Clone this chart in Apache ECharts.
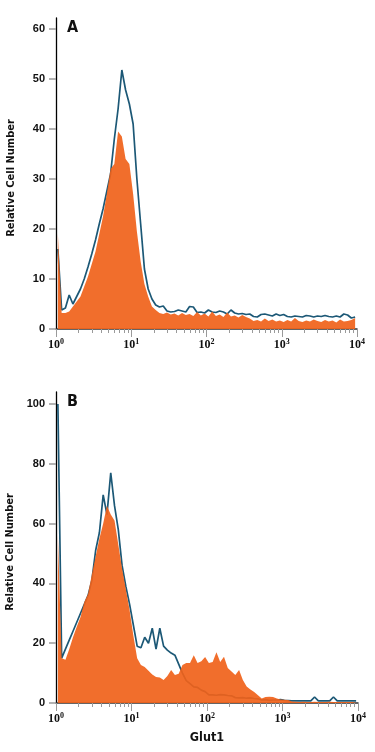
<!DOCTYPE html>
<html><head><meta charset="utf-8">
<script src="https://cdn.jsdelivr.net/npm/echarts@6/dist/echarts.min.js"></script>
<style>html,body{margin:0;padding:0;background:#fff}#c{width:375px;height:752px}</style>
</head><body><div id="c"></div>
<script>
// Channel bins in log10(fluorescence) units: bin i is centred at (i+0.5)*BIN_WIDTH
const BIN_WIDTH = 0.05;
const xExponents = [0, 1, 2, 3, 4];          // tick labels 10^0 ... 10^4
const xMinorMultipliers = [2, 3, 4, 5, 6, 7, 8, 9];
const yTicksA = [0, 10, 20, 30, 40, 50, 60];
const yTicksB = [0, 20, 40, 60, 80, 100];
const panelLabels = ['A', 'B'];
const xAxisTitle = 'Glut1';
const yAxisTitle = 'Relative Cell Number';

// Panel A
const panelA_orange = [19, 3.2, 3.2, 3.5, 4.5, 5.5, 6.5, 8.5, 10.5, 13,
  15.5, 19, 22.5, 27, 32, 33, 39.5, 38.5, 34, 33,
  27, 19.5, 13.5, 9, 6.5, 4.5, 3.8, 3.2, 3.0, 3.3,
  2.9, 3.1, 2.7, 3.2, 2.8, 3.0, 2.6, 3.4, 2.7, 3.1,
  2.5, 3.5, 2.6, 2.9, 2.4, 3.3, 2.5, 2.7, 2.3, 2.8,
  2.4, 2.1, 1.6, 1.8, 1.5, 2.1, 1.6, 1.9, 1.5, 1.7,
  1.4, 1.8, 1.5, 2.2, 1.6, 1.4, 1.7, 1.5, 1.9, 1.6,
  1.4, 1.8, 1.5, 1.7, 1.3, 1.9, 1.5, 1.6, 1.8, 2.2];
const panelA_blue = [16, 3.8, 4.2, 6.8, 5, 6.5, 8, 10, 12.4, 15,
  17.8, 21, 24, 27.5, 31, 38, 44, 51.8, 47.8, 45,
  41, 30, 21, 12, 8, 6, 4.8, 4.4, 4.6, 3.6,
  3.4, 3.5, 3.8, 3.6, 3.4, 4.5, 4.4, 3.3, 3.4, 3.2,
  3.8, 3.4, 3.3, 3.6, 3.4, 3.0, 3.8, 3.2, 3.0, 3.1,
  2.9, 3.0, 2.5, 2.4, 2.9, 3.0, 2.8, 2.6, 3.0, 2.7,
  2.9, 2.5, 2.4, 2.6, 2.5, 2.4, 2.7, 2.6, 2.4, 2.6,
  2.5, 2.7, 2.5, 2.4, 2.6, 2.4, 3.0, 2.8, 2.2, 2.4];

// Panel B
const panelB_orange = [56, 15, 14.5, 18, 22, 25.5, 28.8, 33.8, 36.5, 43,
  49, 55, 60, 66, 63, 61, 53, 45, 38, 31,
  22.5, 15, 12.7, 12, 10.8, 9.5, 8.7, 8.5, 7.7, 9,
  11, 9.4, 9.8, 12.7, 13.4, 13.4, 16, 13.4, 14, 15.4,
  13.4, 13.7, 17, 13.7, 15.5, 11.7, 10.5, 9.4, 11, 7.7,
  5.5, 4.5, 3.7, 2.6, 1.5, 2, 2.1, 2, 1.5, 1.2,
  1.1, 1.0, 0.5, 0.4, 0.3, 0.4, 0.3, 0.3, 0.4, 0.3,
  0.3, 0.3, 0.4, 0.3, 0.3, 0.3, 0.3, 0.3, 0.3, 0.3];
const panelB_blue = [100, 15, 18, 21, 24, 27, 30, 33, 36, 41,
  51, 57, 69.6, 63, 77, 66, 58, 46, 39, 33,
  26, 19, 18.5, 22, 20, 25, 18, 25, 19, 17.7,
  16.7, 16, 13, 10, 7.5, 6.5, 5.4, 5.2, 4.3, 3.8,
  2.7, 2.7, 2.6, 2.8, 2.7, 2.5, 2.4, 1.8, 1.7, 1.8,
  1.6, 1.7, 1.5, 1.4, 1.0, 1.1, 0.9, 1.0, 1.0, 1.1,
  0.9, 0.8, 0.7, 0.7, 0.7, 0.7, 0.7, 0.7, 2.0, 0.7,
  0.7, 0.7, 0.7, 2.0, 0.7, 0.7, 0.7, 0.7, 0.7, 0.7];

const ORANGE = 'rgba(240,98,26,0.92)';
const BLUE = '#1c5876';
const narrow = "'Liberation Sans Narrow','DejaVu Sans Condensed','Liberation Sans',sans-serif";

function points(vals) {
  return vals.map((v, i) => [(i + 0.5) * BIN_WIDTH, v]);
}
const minorTicks = [];
xExponents.slice(0, -1).forEach(e => xMinorMultipliers.forEach(m => minorTicks.push(e + Math.log10(m))));

function xAxes(g, withName) {
  return [{
    type: 'value', gridIndex: g, min: 0, max: 4, position: 'bottom',
    axisLine: { onZero: false, lineStyle: { color: '#333', width: 1.5 } },
    axisTick: { customValues: xExponents, length: 8, lineStyle: { color: '#9a9a9a', width: 1 } },
    axisLabel: {
      customValues: xExponents, margin: 9,
      formatter: v => '{b|10}{s|' + Math.round(v) + '}',
      rich: {
        b: { fontFamily: "'Liberation Serif',serif", fontWeight: 'bold', fontSize: 12, color: '#111', lineHeight: 14 },
        s: { fontFamily: "'Liberation Serif',serif", fontWeight: 'bold', fontSize: 8, color: '#111', verticalAlign: 'top' }
      }
    },
    splitLine: { show: false },
    name: withName ? xAxisTitle : '', nameLocation: 'middle', nameGap: 28,
    nameTextStyle: { fontFamily: narrow, fontWeight: 'bold', fontSize: 12.5, color: '#111' }
  }, {
    type: 'value', gridIndex: g, min: 0, max: 4, position: 'bottom',
    axisLine: { show: false, onZero: false },
    axisTick: { customValues: minorTicks, length: 4, lineStyle: { color: '#9a9a9a', width: 1 } },
    axisLabel: { show: false }, splitLine: { show: false }
  }];
}
function yAxis(g, max, ticks) {
  return {
    type: 'value', gridIndex: g, min: 0, max: max,
    axisLine: { show: true, lineStyle: { color: '#000', width: 1.3 } },
    axisTick: { show: true, customValues: ticks, length: 7, lineStyle: { color: '#9a9a9a', width: 1.5 } },
    axisLabel: { customValues: ticks, margin: 11, fontFamily: "'Liberation Sans',Arial,sans-serif", fontWeight: 'bold', fontSize: 11, color: '#111' },
    splitLine: { show: false },
    name: yAxisTitle, nameLocation: 'middle', nameGap: 39,
    nameTextStyle: { fontFamily: narrow, fontWeight: 'bold', fontSize: 11, color: '#111', padding: [0, 9, 0, 0] }
  };
}
function blueSeries(xi, yi, vals) {
  return { type: 'line', xAxisIndex: xi, yAxisIndex: yi, data: points(vals),
    symbol: 'none', z: 2, lineStyle: { color: BLUE, width: 1.7 }, silent: true };
}
function orangeSeries(xi, yi, vals) {
  return { type: 'line', xAxisIndex: xi, yAxisIndex: yi, data: points(vals),
    symbol: 'none', z: 3, lineStyle: { width: 0, color: ORANGE }, areaStyle: { color: ORANGE, opacity: 1 }, silent: true };
}

const chart = echarts.init(document.getElementById('c'), null, { renderer: 'canvas' });
chart.setOption({
  backgroundColor: '#fff',
  animation: false,
  title: [
    { text: panelLabels[0], left: 67, top: 20, padding: 0, textStyle: { fontFamily: narrow, fontWeight: 'bold', fontSize: 16, color: '#111' } },
    { text: panelLabels[1], left: 67, top: 394, padding: 0, textStyle: { fontFamily: narrow, fontWeight: 'bold', fontSize: 16, color: '#111' } }
  ],
  grid: [
    { left: 56, right: 18, top: 18, bottom: 423, containLabel: false, outerBoundsMode: 'none' },
    { left: 56, right: 17, top: 392, bottom: 49, containLabel: false, outerBoundsMode: 'none' }
  ],
  xAxis: [...xAxes(0, false), ...xAxes(1, true)],
  yAxis: [yAxis(0, 62.2, yTicksA), yAxis(1, 104, yTicksB)],
  series: [
    blueSeries(0, 0, panelA_blue), orangeSeries(0, 0, panelA_orange),
    blueSeries(2, 1, panelB_blue), orangeSeries(2, 1, panelB_orange)
  ]
});
</script></body></html>
